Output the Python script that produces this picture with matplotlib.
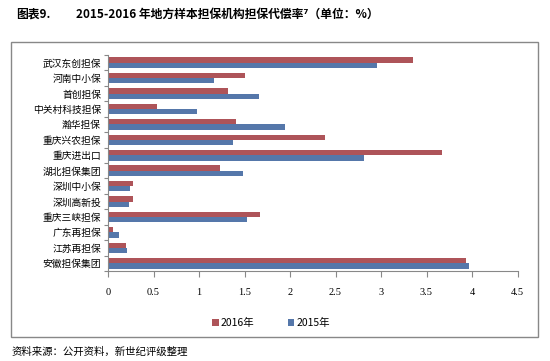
import matplotlib
matplotlib.use("Agg")
import matplotlib.pyplot as plt
import numpy as np
from matplotlib.patches import Rectangle

plt.rcParams['font.family'] = ['Noto Sans CJK SC', 'DejaVu Sans']

# données
names = ["武汉东创担保", "河南中小保", "首创担保", "中关村科技担保", "瀚华担保",
         "重庆兴农担保", "重庆进出口", "湖北担保集团", "深圳中小保", "深圳高新投",
         "重庆三峡担保", "广东再担保", "江苏再担保", "安徽担保集团"]
v2016 = [3.35, 1.50, 1.32, 0.54, 1.41, 2.38, 3.67, 1.23, 0.27, 0.27, 1.67, 0.055, 0.20, 3.93]
v2015 = [2.96, 1.17, 1.66, 0.975, 1.94, 1.37, 2.81, 1.48, 0.245, 0.23, 1.53, 0.12, 0.21, 3.97]
xticks = [0, 0.5, 1, 1.5, 2, 2.5, 3, 3.5, 4, 4.5]

red = '#AE5459'
blue = '#5577AA'
grey = '#888888'

fig = plt.figure(figsize=(5.5, 3.61), dpi=100)
W, H = 550, 361
ax = fig.add_axes([108 / W, 1 - 271 / H, (517.5 - 108) / W, (271 - 55) / H])

n = len(names)
y = np.arange(n)[::-1]
h = 0.34
ax.barh(y + h / 2, v2016, height=h, color=red, label="2016年")
ax.barh(y - h / 2, v2015, height=h, color=blue, label="2015年")

ax.set_xlim(0, 4.5)
ax.set_ylim(-0.5, n - 0.5)
ax.set_xticks(xticks)
ax.set_xticklabels([f"{t:g}" for t in xticks], fontsize=7.5, family='Liberation Serif')
ax.set_yticks(y)
ax.set_yticklabels(names, fontsize=7)
ax.set_yticks(np.arange(n + 1) - 0.5, minor=True)
ax.tick_params(axis='y', which='major', length=0, pad=5)
ax.tick_params(axis='y', which='minor', length=3, color=grey, width=0.8)
ax.tick_params(axis='x', length=4, color=grey, width=0.8, pad=8)
for s in ['top', 'right']:
    ax.spines[s].set_visible(False)
for s in ['left', 'bottom']:
    ax.spines[s].set_color(grey)
    ax.spines[s].set_linewidth(0.8)

# cadre extérieur
fig.patches.append(Rectangle((10.5 / W, 1 - 337 / H), (538 - 10.5) / W, (337 - 42) / H,
                             transform=fig.transFigure, fill=False, edgecolor=grey, linewidth=1))

leg = fig.legend(loc='center', bbox_to_anchor=(271 / W, 1 - 323 / H), ncol=2, frameon=False,
                 fontsize=7.5, handlelength=0.6, handleheight=0.6, handletextpad=0.2,
                 columnspacing=3.2)

fig.text(16 / W, 1 - 14 / H, "图表9.", fontsize=8.5, fontweight='bold', va='center')
fig.text(76 / W, 1 - 14 / H, "2015-2016 年地方样本担保机构担保代偿率⁷（单位：%）",
         fontsize=8.5, fontweight='bold', va='center')
fig.text(12 / W, 1 - 352 / H, "资料来源：公开资料，新世纪评级整理", fontsize=7.5, va='center')

fig.savefig("out.png", dpi=100)
